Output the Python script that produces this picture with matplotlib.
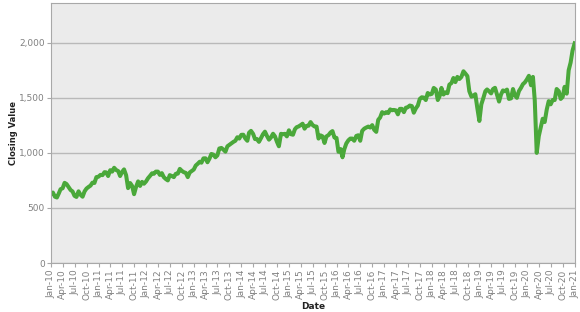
import matplotlib
matplotlib.use("Agg")
import matplotlib.pyplot as plt
import matplotlib.dates as mdates
from matplotlib.ticker import FuncFormatter, MultipleLocator
import pandas as pd

# semi-monthly closing values (mid-month, month-end)
years = list(range(2010, 2021))
closes = {
    2010: [640, 602, 595, 628, 670, 679, 728, 717, 690, 663, 650, 610,
           600, 651, 620, 602, 650, 676, 690, 703, 730, 727, 780, 784],
    2011: [800, 798, 825, 823, 790, 843, 830, 865, 845, 835, 790, 827,
           850, 797, 680, 726, 700, 625, 690, 741, 700, 737, 720, 741],
    2012: [770, 792, 815, 810, 830, 830, 800, 816, 780, 762, 750, 798,
           790, 780, 810, 812, 855, 837, 825, 818, 780, 822, 835, 849],
    2013: [885, 902, 920, 911, 950, 951, 915, 947, 990, 984, 960, 977,
           1040, 1045, 1030, 1011, 1060, 1073, 1085, 1100, 1110, 1142, 1130, 1164],
    2014: [1165, 1130, 1110, 1183, 1200, 1173, 1125, 1126, 1100, 1135, 1170, 1193,
           1155, 1120, 1140, 1174, 1150, 1101, 1060, 1173, 1170, 1173, 1150, 1205],
    2015: [1170, 1165, 1215, 1233, 1240, 1252, 1265, 1220, 1245, 1247, 1280, 1254,
           1240, 1239, 1130, 1159, 1150, 1090, 1150, 1162, 1185, 1198, 1140, 1136],
    2016: [1010, 1035, 960, 1034, 1085, 1114, 1130, 1130, 1110, 1154, 1160, 1110,
           1200, 1220, 1230, 1239, 1230, 1252, 1210, 1191, 1300, 1322, 1370, 1357],
    2017: [1370, 1362, 1395, 1387, 1390, 1386, 1350, 1400, 1400, 1370, 1410, 1415,
           1430, 1425, 1365, 1405, 1430, 1490, 1505, 1502, 1480, 1544, 1530, 1536],
    2018: [1590, 1575, 1480, 1512, 1590, 1530, 1550, 1542, 1620, 1634, 1680, 1643,
           1690, 1671, 1690, 1741, 1720, 1697, 1560, 1511, 1520, 1533, 1410, 1290],
    2019: [1440, 1500, 1560, 1576, 1560, 1540, 1580, 1591, 1530, 1466, 1530, 1567,
           1560, 1575, 1490, 1495, 1580, 1523, 1500, 1562, 1590, 1624, 1640, 1668],
    2020: [1700, 1614, 1690, 1476, 1000, 1153, 1230, 1310, 1280, 1394, 1470, 1441,
           1480, 1480, 1580, 1561, 1490, 1508, 1600, 1538, 1750, 1820, 1930, 1995],
}

dates = [pd.Timestamp("2010-01-01")]
values = [630]
for yr in years:
    for m in range(12):
        mid = pd.Timestamp(year=yr, month=m + 1, day=15)
        end = mid + pd.offsets.MonthEnd(0)
        dates += [mid, end]
        values += closes[yr][2 * m:2 * m + 2]

fig = plt.figure(figsize=(5.8, 3.12), dpi=100)
ax = fig.add_axes([0.088, 0.157, 0.903, 0.833])
ax.set_facecolor("#ebebeb")

ax.plot(dates, values, color="#4aa83a", lw=2.9, solid_joinstyle="round")

ax.set_xlim(pd.Timestamp("2010-01-01"), pd.Timestamp("2021-01-01"))
ax.set_ylim(0, 2360)
ax.yaxis.set_major_locator(MultipleLocator(500))
ax.yaxis.set_major_formatter(FuncFormatter(lambda v, p: f"{int(v):,}"))
ax.xaxis.set_major_locator(mdates.MonthLocator(bymonth=[1, 4, 7, 10]))
ax.xaxis.set_major_formatter(mdates.DateFormatter("%b-%y"))
for lab in ax.get_xticklabels():
    lab.set_rotation(90)

ax.grid(axis="y", color="#b9b9b9", lw=1)
ax.set_axisbelow(True)
for s in ax.spines.values():
    s.set_color("#a8a8a8")
ax.tick_params(axis="both", colors="#a8a8a8", labelcolor="#808080",
               labelsize=6.5, length=3, width=0.8, pad=1.5)

ax.set_ylabel("Closing Value", fontsize=6, fontweight="bold", color="#222222",
              labelpad=1)
ax.set_xlabel("Date", fontsize=6.5, fontweight="bold", color="#222222",
              labelpad=2)

fig.savefig("out.png", dpi=100)
